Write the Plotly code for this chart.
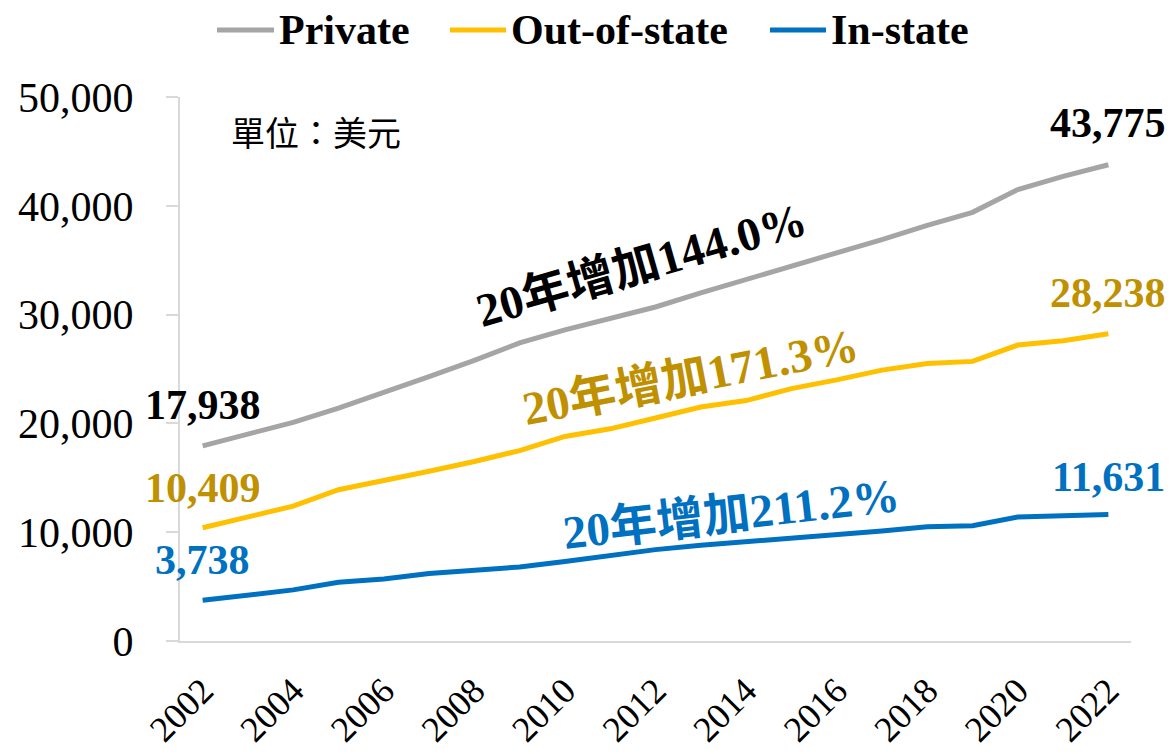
import plotly.graph_objects as go

years = [str(y) for y in range(2002, 2023)]
private = [17938, 19000, 20100, 21400, 22800, 24300, 25800, 27400, 28600, 29600, 30700,
           32000, 33200, 34400, 35700, 36900, 38200, 39400, 41500, 42700, 43775]
out_state = [10409, 11400, 12400, 13900, 14700, 15600, 16500, 17500, 18800, 19500, 20500,
             21500, 22100, 23200, 24000, 24900, 25500, 25700, 27200, 27600, 28238]
in_state = [3738, 4200, 4700, 5400, 5700, 6200, 6500, 6800, 7300, 7900, 8400,
            8800, 9100, 9500, 9700, 10100, 10500, 10600, 11400, 11500, 11631]

series_names = ["Private", "Out-of-state", "In-state"]
series_vals = [private, out_state, in_state]
line_colors = ["#A5A5A5", "#FFC000", "#0070C0"]
text_colors = ["#000000", "#BF9000", "#0070C0"]
growth_text = ["20年增加144.0%", "20年增加171.3%", "20年增加211.2%"]
unit_text = "單位：美元"

SERIF = "Liberation Serif, Times New Roman, Noto Sans CJK TC, serif"

# page body has an 8px margin; the figure is sized so that it fits the window
OFF = 8
W, H = 1175 - OFF, 754 - OFF
PLOT_L, PLOT_R, PLOT_T, PLOT_B = 180, 1131, 97, 641   # screen coords of plot area
L, T = PLOT_L - OFF, PLOT_T - OFF
R, B = W - (PLOT_R - OFF), H - (PLOT_B - OFF)
PW, PH = PLOT_R - PLOT_L, PLOT_B - PLOT_T

def px(x):
    return (x - PLOT_L) / PW

def py(y):
    return (PLOT_B - y) / PH

fig = go.Figure()
for name, vals, lc in zip(series_names, series_vals, line_colors):
    fig.add_trace(go.Scatter(x=list(range(len(years))), y=vals, mode="lines", name=name,
                             line=dict(color=lc, width=5), showlegend=False))

# end-point value labels
label_shift = [(41, 42), (40, 41), (40, 37)]
for vals, tc, (s0, s1) in zip(series_vals, text_colors, label_shift):
    fig.add_annotation(x=0, y=vals[0], text=f"{vals[0]:,}", showarrow=False,
                       xanchor="center", yanchor="middle", yshift=s0,
                       font=dict(family=SERIF, size=42, color=tc, weight="bold"))
    fig.add_annotation(x=len(years) - 1, y=vals[-1], text=f"{vals[-1]:,}", showarrow=False,
                       xanchor="center", yanchor="middle", yshift=s1,
                       font=dict(family=SERIF, size=42, color=tc, weight="bold"))

# growth annotations
growth_pos = [(641, 265, -16), (690, 377, -11), (731, 514, -6.5)]
for txt, tc, (gx, gy, ang) in zip(growth_text, text_colors, growth_pos):
    fig.add_annotation(xref="paper", yref="paper", x=px(gx), y=py(gy),
                       xanchor="center", yanchor="middle",
                       text=txt, showarrow=False, textangle=ang,
                       font=dict(family=SERIF, size=47, color=tc, weight="bold"))

fig.add_annotation(xref="paper", yref="paper", x=px(316), y=py(131),
                   xanchor="center", yanchor="middle",
                   text=unit_text, showarrow=False,
                   font=dict(family="Noto Sans CJK TC, serif", size=34, color="#000000"))

# legend (drawn manually)
leg_lines = [(217, 274), (450, 506), (770, 826)]
leg_y = 30
for name, lc, (x0, x1) in zip(series_names, line_colors, leg_lines):
    fig.add_shape(type="line", xref="paper", yref="paper", x0=px(x0), x1=px(x1),
                  y0=py(leg_y), y1=py(leg_y), line=dict(color=lc, width=5))
    fig.add_annotation(xref="paper", yref="paper", x=px(x1 + 3), y=py(leg_y),
                       xanchor="left", yanchor="middle", text=name, showarrow=False,
                       font=dict(family=SERIF, size=42, color="#000000", weight="bold"))

fig.update_layout(
    width=W, height=H,
    margin=dict(l=L, r=R, t=T, b=B, autoexpand=False),
    paper_bgcolor="white", plot_bgcolor="white",
    showlegend=False,
    xaxis=dict(tickmode="array", tickvals=list(range(0, len(years), 2)), ticktext=years[::2],
               tickangle=-45, showgrid=False, showline=True, linecolor="#D9D9D9", linewidth=2,
               ticks="", tickfont=dict(family=SERIF, size=36, color="#000000"),
               range=[-0.5, len(years) - 0.5], zeroline=False, ticklabelstandoff=12),
    yaxis=dict(range=[0, 50000], tickvals=[0, 10000, 20000, 30000, 40000, 50000],
               ticktext=["0", "10,000", "20,000", "30,000", "40,000", "50,000"],
               showgrid=False, showline=True, linecolor="#D9D9D9", linewidth=2,
               ticks="outside", ticklen=12, tickcolor="#D9D9D9", tickwidth=2,
               tickfont=dict(family=SERIF, size=42, color="#000000"), zeroline=False,
               ticklabelstandoff=24),
)

fig.write_html("out.html")
